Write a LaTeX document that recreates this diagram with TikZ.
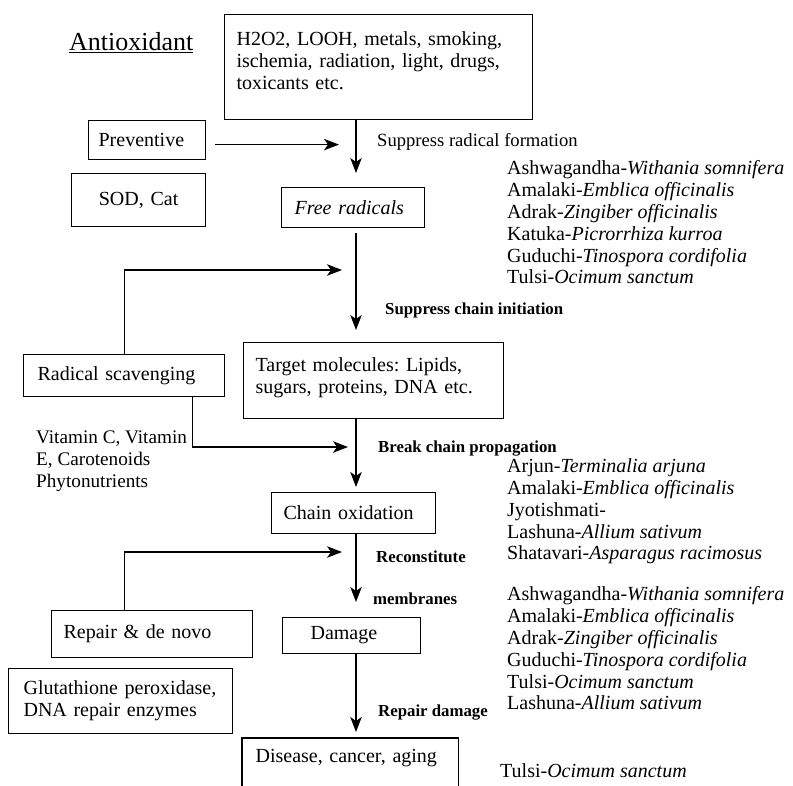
\documentclass[tikz,border=0pt]{standalone}
\usepackage{fontspec}
\setmainfont{Liberation Serif}
\usetikzlibrary{arrows.meta}
\newcommand\mainsize{\fontsize{20}{21.8}\selectfont}
\newcommand\labsize{\fontsize{16.8}{18}\selectfont}
\newcommand\subsize{\fontsize{18.6}{20}\selectfont}
\newcommand\titlesize{\fontsize{26}{28}\selectfont}
\frenchspacing
\begin{document}
\begin{tikzpicture}[x=1pt,y=-1pt,
  box/.style={draw, line width=1.2pt, inner ysep=0pt, anchor=north west, align=left, font=\mainsize},
  txt/.style={inner sep=0pt, anchor=west, align=left, font=\mainsize},
  lab/.style={inner sep=0pt, anchor=west, font=\labsize\bfseries},
  arr/.style={line width=1.2pt, -{Stealth[length=15pt,width=11.5pt,inset=4pt]}},
  edge/.style={line width=1.2pt}]
\useasboundingbox (0,0) rectangle (793,785);
\clip (0,0) rectangle (793,785);
% boxes
\node[box, minimum width=308pt, minimum height=105pt, inner xsep=12pt, text width=284pt] (src) at (224,14)
  {H2O2, LOOH, metals, smoking,\\ischemia, radiation, light, drugs,\\toxicants etc.\\[-9pt]\null};
\node[box, minimum width=117pt, minimum height=39pt, inner xsep=10pt, text width=97pt] (prev) at (88,120) {Preventive};
\node[box, minimum width=134pt, minimum height=53pt, inner xsep=10pt, text width=114pt, align=center] (sod) at (71,173) {SOD, Cat};
\node[box, minimum width=143pt, minimum height=40pt, inner xsep=13pt, text width=117pt] (free) at (281,187) {\itshape Free radicals};
\node[box, minimum width=201pt, minimum height=42pt, inner xsep=14pt, text width=173pt] (rad) at (23,354) {Radical scavenging};
\node[box, minimum width=260pt, minimum height=76pt, inner xsep=12pt, text width=236pt] (target) at (243,342)
  {Target molecules: Lipids,\\sugars, proteins, DNA etc.\\[-12pt]\null};
\node[box, minimum width=164pt, minimum height=41pt, inner xsep=12pt, text width=140pt] (chain) at (271,492) {Chain oxidation};
\node[box, minimum width=201pt, minimum height=47pt, inner xsep=12pt, text width=177pt] (repair) at (51,610) {Repair \& de novo};
\node[box, minimum width=138pt, minimum height=36pt, inner xsep=28pt, text width=82pt] (damage) at (282,617) {Damage};
\node[box, minimum width=224pt, minimum height=65pt, inner xsep=15pt, text width=194pt] (gluta) at (8,668)
  {Glutathione peroxidase,\\DNA repair enzymes};
\node[box, draw=none, minimum width=215pt, minimum height=38pt, inner xsep=13pt, text width=189pt] (disease) at (242,738)
  {Disease, cancer, aging};
\draw[edge] ([yshift=-30pt]disease.south west) -- (disease.north west) -- (disease.north east) -- ([yshift=-30pt]disease.south east);
% axis coordinates
\coordinate (ax) at (356,0);
\coordinate (j1) at (356,270);
\coordinate (j2) at (356,447);
\coordinate (j3) at (356,552);
% main arrows
\draw[arr, shorten >=14pt] (src.south -| ax) -- (free.north -| ax);
\draw[arr, shorten <=5pt, shorten >=12pt] (free.south -| ax) -- (target.north -| ax);
\draw[arr, shorten >=5pt] (target.south -| ax) -- (chain.north -| ax);
\draw[arr, shorten >=15pt] (chain.south -| ax) -- (damage.north -| ax);
\draw[arr, shorten >=6pt] (damage.south -| ax) -- (disease.north -| ax);
% side arrows
\draw[arr, shorten <=9pt, shorten >=17pt] ([yshift=-4.5pt]prev.east) -- ([yshift=-4.5pt]prev.east -| ax);
\draw[arr, shorten >=14pt] (rad.north) |- (j1);
\draw[arr, shorten >=8pt] ([xshift=68.5pt]rad.south) |- (j2);
\draw[arr, shorten >=14pt] ([xshift=-27.5pt]repair.north) |- (j3);
% title
\node[inner sep=0pt, anchor=west, font=\titlesize] (title) at (69,43) {\underline{Antioxidant}};
% labels
\node[inner sep=0pt, anchor=west, font=\subsize] (l1) at (377,142) {Suppress radical formation};
\node[lab] (l2) at (385,310) {Suppress chain initiation};
\node[lab] (l3) at (378,449) {Break chain propagation};
\node[lab] (l4) at (376,557) {Reconstitute};
\node[lab] (l5) at (373,599) {membranes};
\node[lab] (l6) at (378,713) {Repair damage};
\node[txt, font=\fontsize{19.2}{21.8}\selectfont] (vit) at (36,461) {Vitamin C, Vitamin\\E, Carotenoids\\Phytonutrients};
% herb lists
\node[txt] (h1) at (507,222.5) {Ashwagandha-\textit{Withania somnifera}\\Amalaki-\textit{Emblica officinalis}\\Adrak-\textit{Zingiber officinalis}\\Katuka-\textit{Picrorrhiza kurroa}\\Guduchi-\textit{Tinospora cordifolia}\\Tulsi-\textit{Ocimum sanctum}};
\node[txt] (h2) at (507,511.5) {Arjun-\textit{Terminalia arjuna}\\Amalaki-\textit{Emblica officinalis}\\Jyotishmati-\\Lashuna-\textit{Allium sativum}\\Shatavari-\textit{Asparagus racimosus}};
\node[txt] (h3) at (507,648.5) {Ashwagandha-\textit{Withania somnifera}\\Amalaki-\textit{Emblica officinalis}\\Adrak-\textit{Zingiber officinalis}\\Guduchi-\textit{Tinospora cordifolia}\\Tulsi-\textit{Ocimum sanctum}\\Lashuna-\textit{Allium sativum}};
\node[txt] (h4) at (500,771) {Tulsi-\textit{Ocimum sanctum}};
\end{tikzpicture}
\end{document}
